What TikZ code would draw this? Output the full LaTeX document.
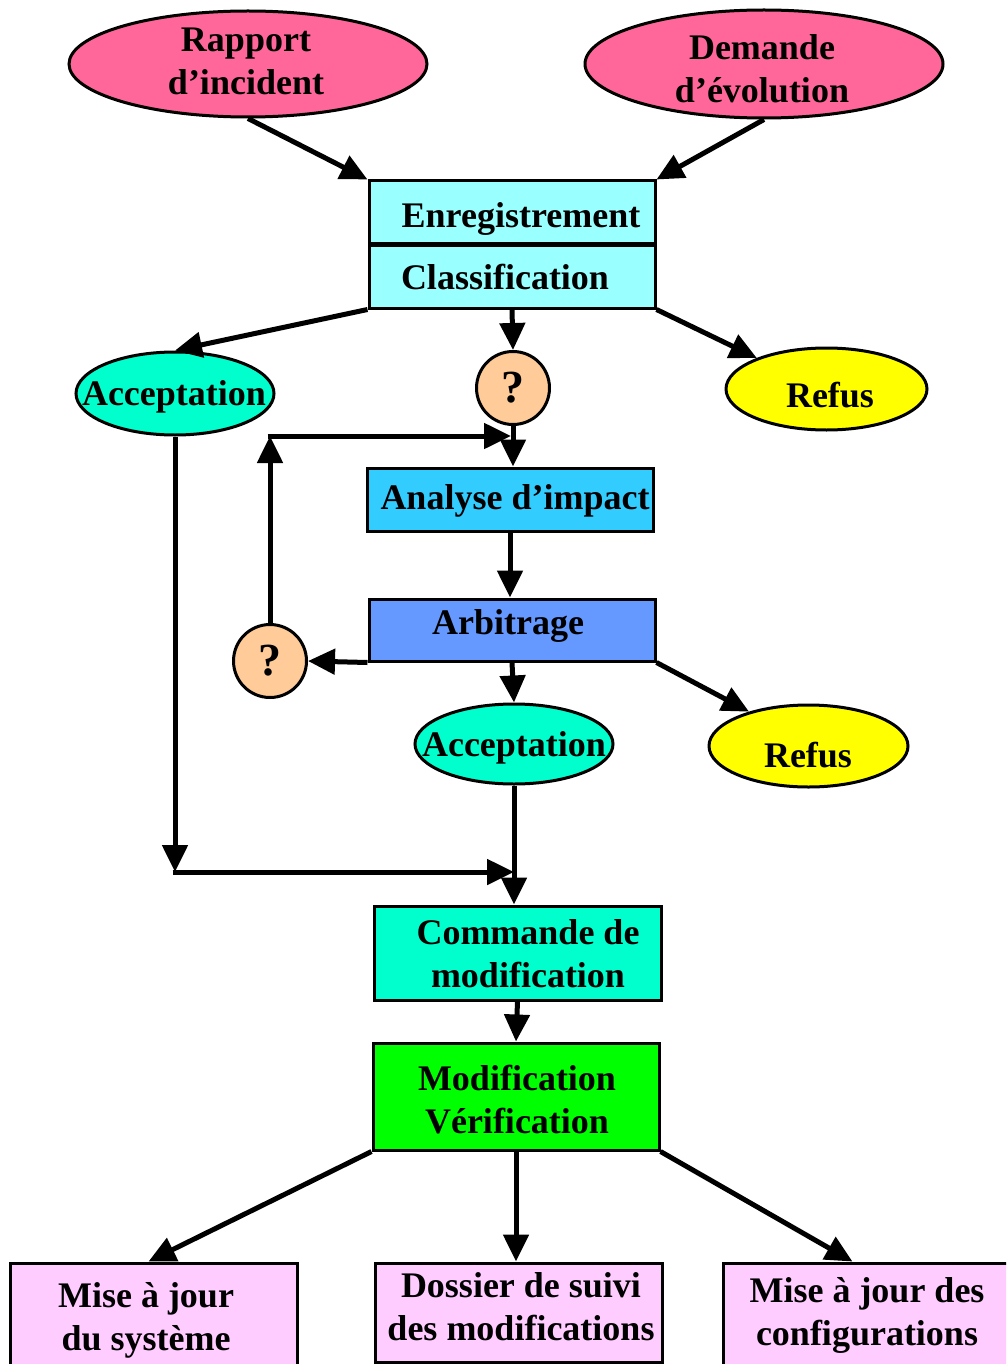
\documentclass[tikz,border=0pt]{standalone}
\usepackage{fontspec}
\setmainfont{Liberation Serif}
\usetikzlibrary{shapes.geometric,arrows.meta}
\definecolor{pinkE}{HTML}{FF6699}
\definecolor{cyanL}{HTML}{99FFFF}
\definecolor{accC}{HTML}{00FFCC}
\definecolor{qC}{HTML}{FFCC99}
\definecolor{refC}{HTML}{FFFF00}
\definecolor{anaC}{HTML}{33CCFF}
\definecolor{arbC}{HTML}{6699FF}
\definecolor{modC}{HTML}{00FF00}
\definecolor{botC}{HTML}{FFCCFF}
\begin{document}
\begin{tikzpicture}[x=1pt,y=-1pt,
  txt/.style={font=\bfseries\fontsize{36}{43}\selectfont, inner sep=0pt},
  one/.style={txt, text height=24pt, text depth=0pt},
  two/.style={txt, align=center},
  box/.style={draw, line width=3pt, inner sep=0pt},
  ell/.style={ellipse, draw, line width=3pt, inner sep=0pt},
  circ/.style={circle, draw, line width=3pt, inner sep=0pt, fill=qC, minimum size=73pt,
    font=\bfseries\fontsize{46}{50}\selectfont},
  arr/.style={line width=5pt, -{Triangle[length=27pt,width=25pt]}}]
\useasboundingbox (0,0) rectangle (1006,1364);
\clip (0,0) rectangle (1006,1364);

% ellipses and circles
\node[ell, fill=pinkE, minimum width=358pt, minimum height=106pt] (rap) at (248,64) {};
\node[ell, fill=pinkE, minimum width=358pt, minimum height=108pt] (dem) at (764,64) {};
\node[ell, fill=accC, minimum width=198pt, minimum height=83pt] (acc1) at (175,393.5) {};
\node[circ] (q1) at (513,388) {?};
\node[ell, fill=refC, minimum width=201pt, minimum height=82pt] (ref1) at (826.5,389) {};
\node[circ] (q2) at (270,661) {?};
\node[ell, fill=accC, minimum width=198pt, minimum height=80pt] (acc2) at (514,744) {};
\node[ell, fill=refC, minimum width=199pt, minimum height=82pt] (ref2) at (808.5,746) {};

% boxes
\node[box, fill=cyanL, minimum width=286pt, minimum height=63pt] (enr) at (512,212.5) {};
\node[box, fill=cyanL, minimum width=286pt, minimum height=62pt] (cla) at (512,277) {};
\node[box, fill=anaC, minimum width=286pt, minimum height=63pt] (ana) at (510,499.5) {};
\node[box, fill=arbC, minimum width=286pt, minimum height=62pt] (arb) at (512,630) {};
\node[box, fill=accC, minimum width=287pt, minimum height=94pt] (com) at (517.5,953) {};
\node[box, fill=modC, minimum width=286pt, minimum height=107pt] (mod) at (516,1096.5) {};
\node[box, fill=botC, minimum width=287pt, minimum height=117pt] (bot1) at (153.5,1321.5) {};
\node[box, fill=botC, minimum width=287pt, minimum height=99pt] (bot2) at (518.5,1312.5) {};
\node[box, fill=botC, minimum width=287pt, minimum height=117pt] (bot3) at (866.5,1321.5) {};

% connectors
\coordinate (lp) at (270,436);
\coordinate (jn) at (511,436);
\coordinate (c1) at (175,872);
\coordinate (c2) at (514,872);
\draw[arr] (rap.south) -- (enr.north west);
\draw[arr] (dem.south) -- (enr.north east);
\draw[arr] (cla.south west) -- (acc1.north);
\draw[arr] (cla.south) -- (q1.north);
\draw[arr] (cla.south east) -- (ref1.156);
\draw[arr] (q1.south) -- (q1.south |- ana.north);
\draw[arr] (q2.north) -- (lp);
\draw[arr] ([xshift=-2.5pt]lp) -- (jn);
\draw[arr] (ana.south) -- (ana.south |- arb.north);
\draw[arr] (arb.south west) -- (q2.east);
\draw[arr] (arb.south) -- (acc2.north);
\draw[arr] (arb.south east) -- (ref2.150);
\draw[arr] (acc1.south) -- (c1);
\draw[arr] ([xshift=-2.5pt]c1) -- (c2);
\draw[arr] (acc2.south) -- (acc2.south |- com.north);
\draw[arr] (com.south) -- (mod.north);
\draw[arr] (mod.south west) -- ([xshift=-5pt]bot1.north);
\draw[arr] (mod.south) -- (mod.south |- bot2.north);
\draw[arr] (mod.south east) -- ([xshift=-14pt]bot3.north);

% texts
\node[two] (rapt) at (246,61.5) {Rapport\\d’incident};
\node[two] (demt) at (762,68.5) {Demande\\d’évolution};
\node[one] (acc1t) at (174,393) {Acceptation};
\node[one] (acc2t) at (514,744) {Acceptation};
\node[one] (ref1t) at (830,395) {Refus};
\node[one] (ref2t) at (808,755) {Refus};
\node[one] (enrt) at (521,216) {Enregistrement};
\node[one] (clat) at (505,277) {Classification};
\node[one] (anat) at (515,497) {Analyse d’impact};
\node[one] (arbt) at (508,622) {Arbitrage};
\node[two] (comt) at (528,953.5) {Commande de\\modification};
\node[two] (modt) at (517,1099.5) {Modification\\Vérification};
\node[two] (bot1t) at (146,1320) {Mise à jour\\du système};
\node[two] (bot2t) at (521,1307) {Dossier de suivi\\des modifications};
\node[two] (bot3t) at (867,1315) {Mise à jour des\\configurations};
\end{tikzpicture}
\end{document}
